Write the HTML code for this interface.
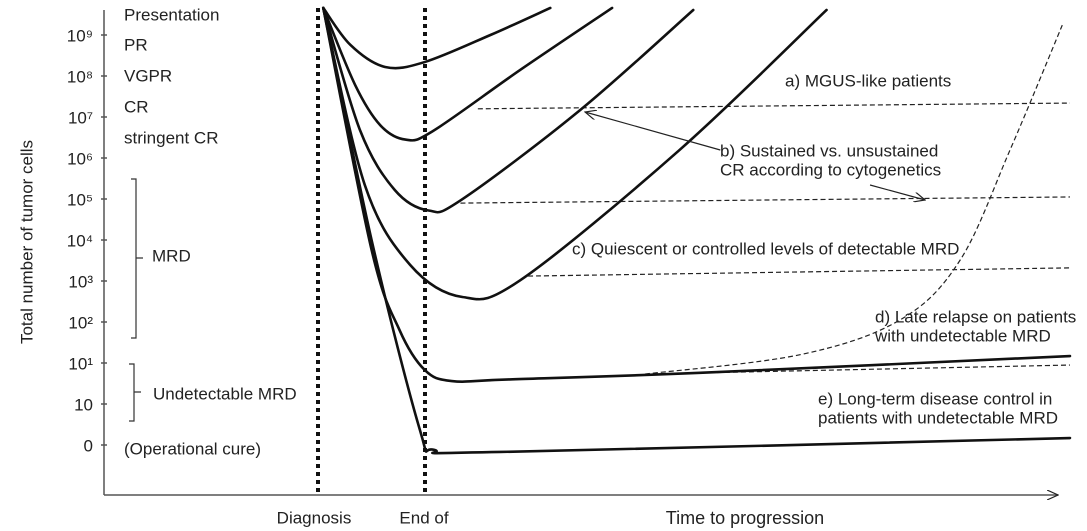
<!DOCTYPE html>
<html><head><meta charset="utf-8"><style>
html,body{margin:0;padding:0;background:#fff;}
svg{display:block;font-family:"Liberation Sans",sans-serif;}
</style></head><body>
<svg id="c" width="1087" height="531" viewBox="0 0 1087 531"></svg>
<script>
const tickLabels=["0","10","10¹","10²","10³","10⁴","10⁵","10⁶","10⁷","10⁸","10⁹"];
const tickLevels=[0,1,2,3,4,5,6,7,8,9,10];
const curvePR=[[22.7,10.66],[25.5,9.76],[29.1,9.22],[33.2,9.34],[40.0,10.0],[46.2,10.66]];
const curveVGPR=[[22.7,10.66],[26.0,8.78],[28.6,7.8],[31.2,7.45],[34.0,7.65],[43.1,9.15],[52.6,10.66]];
const curveCR=[[22.7,10.66],[26.5,7.68],[30.1,6.22],[33.6,5.72],[37.0,5.98],[49.3,8.17],[61.0,10.61]];
const curveMRD=[[22.7,10.66],[27.0,6.34],[31.7,4.39],[37.1,3.61],[43.1,4.02],[59.6,7.2],[74.8,10.61]];
const curveUndet=[[22.7,10.66],[27.7,4.76],[30.6,2.8],[33.2,1.83],[36.0,1.56],[42,1.6],[61.7,1.76],[100,2.17]];
const curveCure=[[22.7,10.66],[27.7,5.0],[32.7,0.37],[34.2,-0.12],[41,-0.17],[100,0.17]];
const dashRelapse=[[56,1.73],[72,2.2],[82.4,3.05],[88.6,4.5],[93.8,7.2],[99.2,10.24]];
const dashA=[[38.7,8.2],[100,8.34]];
const dashB=[[36.9,5.9],[100,6.05]];
const dashC=[[43.9,4.12],[100,4.32]];
const dashD=[[56,1.73],[100,1.95]];
const X=t=>104+t*9.66, Y=l=>445-l*41;
const svg=document.getElementById('c');
const NS='http://www.w3.org/2000/svg';
function mk(tag,attrs,name){const e=document.createElementNS(NS,tag);for(const k in attrs)e.setAttribute(k,attrs[k]);


svg.appendChild(e);return e;}
function txt(x,y,s,name,size,anchor){const e=mk('text',{x:x,y:y,'font-size':size||15,fill:'#222','text-anchor':anchor||'start','dominant-baseline':'middle'},name);e.textContent=s;return e;}
function spline(pts){const p=pts.map(a=>[X(a[0]),Y(a[1])]);let d='M'+p[0][0]+','+p[0][1];
for(let i=0;i<p.length-1;i++){const p0=p[i-1]||p[i],p1=p[i],p2=p[i+1],p3=p[i+2]||p2;
const c1=[p1[0]+(p2[0]-p0[0])/6,p1[1]+(p2[1]-p0[1])/6],c2=[p2[0]-(p3[0]-p1[0])/6,p2[1]-(p3[1]-p1[1])/6];
d+=` C${c1[0]},${c1[1]} ${c2[0]},${c2[1]} ${p2[0]},${p2[1]}`;}return d;}
mk('defs',{},'defs').innerHTML='<marker id="ar" markerWidth="12" markerHeight="10" refX="11" refY="5" orient="auto" markerUnits="userSpaceOnUse"><path d="M0,0 L11,5 L0,10" fill="none" stroke="#222" stroke-width="1.2"/></marker>';
mk('line',{x1:104,y1:10,x2:104,y2:495,stroke:'#555','stroke-width':1.5},'y-axis');
mk('line',{x1:104,y1:495,x2:1058,y2:495,stroke:'#555','stroke-width':1.5,'marker-end':'url(#ar)'},'x-axis');
tickLevels.forEach((l,i)=>{mk('line',{x1:101,y1:Y(l),x2:107,y2:Y(l),stroke:'#555','stroke-width':1.5},'y-tick');
txt(93,Y(l)+2,tickLabels[i],'y-tick-label',17,'end');});
const yl=txt(0,0,'Total number of tumor cells','y-axis-title',17,'middle');yl.setAttribute('transform','translate(28,242) rotate(-90)');
[['Presentation',16],['PR',46],['VGPR',77],['CR',108],['stringent CR',139]].forEach(a=>txt(124,a[1],a[0],'response-label',17));
mk('path',{d:'M131,179 H136 V338 H131 M136,258 H143',fill:'none',stroke:'#333','stroke-width':1.2},'mrd-bracket');
txt(152,257,'MRD','mrd-label',17);
mk('path',{d:'M129,364 H134 V421 H129 M134,392 H141',fill:'none',stroke:'#333','stroke-width':1.2},'undetectable-bracket');
txt(153,395,'Undetectable MRD','undetectable-mrd-label',17);
txt(124,450,'(Operational cure)','operational-cure-label',17);
mk('line',{x1:318,y1:8,x2:318,y2:495,stroke:'#111','stroke-width':4,'stroke-dasharray':'4 4'},'diagnosis-line');
mk('line',{x1:425,y1:8,x2:425,y2:495,stroke:'#111','stroke-width':4,'stroke-dasharray':'4 4'},'end-of-therapy-line');
txt(314,519,'Diagnosis','diagnosis-label',17,'middle');
txt(424,519,'End of','end-of-label',17,'middle');
txt(745,519,'Time to progression','x-axis-title',18,'middle');
[[dashA,'dashed-mgus'],[dashB,'dashed-sustained-cr'],[dashC,'dashed-quiescent-mrd'],[dashD,'dashed-long-term'],[dashRelapse,'dashed-late-relapse']].forEach(a=>
mk('path',{d:spline(a[0]),fill:'none',stroke:'#222','stroke-width':1.2,'stroke-dasharray':'5 3'},a[1]));
[[curvePR,'curve-pr'],[curveVGPR,'curve-vgpr'],[curveCR,'curve-cr'],[curveMRD,'curve-mrd'],[curveUndet,'curve-undetectable'],[curveCure,'curve-cure']].forEach(a=>
mk('path',{d:spline(a[0]),fill:'none',stroke:'#111','stroke-width':2.6,'stroke-linecap':'round'},a[1]));
mk('line',{x1:X(63.8),y1:150,x2:X(49.8),y2:112,stroke:'#222','stroke-width':1.2,'marker-end':'url(#ar)'},'arrow-b-upper');
mk('line',{x1:X(79.3),y1:185,x2:X(85),y2:200,stroke:'#222','stroke-width':1.2,'marker-end':'url(#ar)'},'arrow-b-lower');
const an=[['a) MGUS-like patients',785,82],['b) Sustained vs. unsustained',720,152],['CR according to cytogenetics',720,171],
['c) Quiescent or controlled levels of detectable MRD',572,250],['d) Late relapse on patients',875,318],['with undetectable MRD',875,337],
['e) Long-term disease control in',818,400],['patients with undetectable MRD',818,419]];
an.forEach(a=>txt(a[1],a[2],a[0],'annotation',17));
</script>
</body></html>
